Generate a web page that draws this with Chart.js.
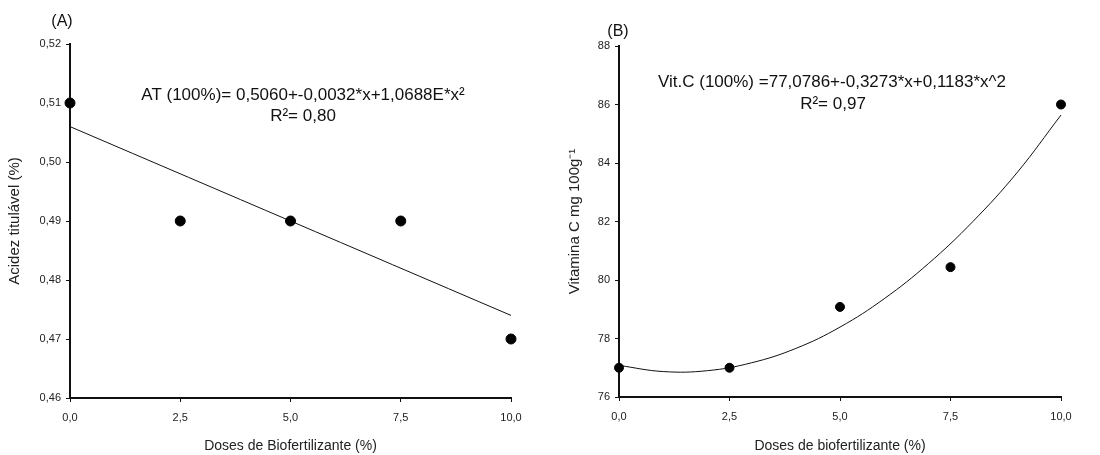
<!DOCTYPE html>
<html>
<head>
<meta charset="utf-8">
<script src="https://cdn.jsdelivr.net/npm/chart.js@4"></script>
<style>
  html, body { margin: 0; padding: 0; background: #fff; }
  #wrap { position: relative; width: 1100px; height: 455px; }
  .panel { position: absolute; top: 0; width: 550px; height: 455px; }
  #panelA { left: 0; }
  #panelB { left: 550px; }
</style>
</head>
<body>
<div id="wrap">
  <div class="panel" id="panelA"><canvas id="chartA"></canvas></div>
  <div class="panel" id="panelB"><canvas id="chartB"></canvas></div>
</div>
<script>
// doses (%)
const doses = [0, 2.5, 5, 7.5, 10];

// (A) acidez titulavel - observed points
const acidez = [0.51, 0.49, 0.49, 0.49, 0.47];
// (A) fitted line at both ends
const acidezFitX = [0, 10];
const acidezFitY = [0.506, 0.474];

// (B) vitamina C - observed points
const vitC = [77.0, 77.0, 79.08, 80.44, 86.0];
// (B) fitted curve
const vitCFitX = [0, 1, 2, 3, 4, 5, 6, 7, 8, 9, 10];
const vitCFitY = [77.08, 76.87, 76.90, 77.17, 77.66, 78.39, 79.36, 80.56, 81.99, 83.66, 85.64];

const ticksA = [0.46, 0.47, 0.48, 0.49, 0.50, 0.51, 0.52];
const ticksB = [76, 78, 80, 82, 84, 86, 88];
const ticksX = [0, 2.5, 5, 7.5, 10];

const FONT = '"Liberation Sans", Arial, sans-serif';
Chart.defaults.font.family = FONT;
Chart.defaults.color = '#222';

function pts(xs, ys) {
    return xs.map((x, i) => ({ x: x, y: ys[i] }));
}

function comma(v, d) {
    return Number(v).toFixed(d).replace('.', ',');
}

// draws panel letter and equation text
function textPlugin(lines) {
    return {
        id: 'eqText',
        afterDraw(chart) {
            const ctx = chart.ctx;
            ctx.save();
            ctx.fillStyle = '#111';
            ctx.textBaseline = 'middle';
            lines.forEach(l => {
                ctx.font = l.size + 'px ' + FONT;
                ctx.textAlign = l.align || 'center';
                ctx.fillText(l.text, l.x, l.y);
            });
            ctx.restore();
        }
    };
}

function makeChart(id, cfg) {
    return new Chart(document.getElementById(id), {
        type: 'scatter',
        data: {
            datasets: [{
                data: pts(doses, cfg.points),
                backgroundColor: '#000',
                borderColor: '#000',
                pointRadius: cfg.radius,
                pointHoverRadius: cfg.radius,
                showLine: false,
                clip: false,
                order: 1
            }, {
                data: pts(cfg.fitX, cfg.fitY),
                borderColor: '#111',
                borderWidth: 1,
                pointRadius: 0,
                showLine: true,
                tension: 0.4,
                fill: false,
                clip: false,
                order: 2
            }]
        },
        options: {
            responsive: false,
            animation: false,
            events: [],
            layout: { padding: { top: cfg.top, right: cfg.right, left: 0, bottom: 0 } },
            plugins: { legend: { display: false }, tooltip: { enabled: false } },
            scales: {
                x: {
                    type: 'linear',
                    min: 0,
                    max: 10,
                    afterBuildTicks: (s) => { s.ticks = ticksX.map(v => ({ value: v })); },
                    afterFit: (s) => { s.height = cfg.xHeight; },
                    border: { color: '#111', width: 2 },
                    grid: { drawOnChartArea: false, drawTicks: true, tickLength: 4, color: '#111', lineWidth: 1 },
                    ticks: {
                        font: { size: 11 },
                        padding: 9,
                        maxRotation: 0,
                        callback: (v) => comma(v, 1)
                    },
                    title: {
                        display: true,
                        text: cfg.xTitle,
                        font: { size: 14 },
                        color: '#222',
                        padding: { top: 8, bottom: 0 }
                    }
                },
                y: {
                    type: 'linear',
                    min: cfg.yTicks[0],
                    max: cfg.yTicks[cfg.yTicks.length - 1],
                    afterBuildTicks: (s) => { s.ticks = cfg.yTicks.map(v => ({ value: v })); },
                    afterFit: (s) => { s.width = cfg.yWidth; },
                    border: { color: '#111', width: 2 },
                    grid: { drawOnChartArea: false, drawTicks: true, tickLength: 4, color: '#111', lineWidth: 1 },
                    ticks: {
                        font: { size: 11 },
                        padding: 5,
                        callback: (v) => cfg.yFmt(v)
                    },
                    title: {
                        display: true,
                        text: cfg.yTitle,
                        font: { size: 15 },
                        color: '#222',
                        padding: { top: cfg.yTitlePad, bottom: 0 }
                    }
                }
            }
        },
        plugins: [textPlugin(cfg.labels)]
    });
}

const cA = document.getElementById('chartA');
cA.width = 550; cA.height = 455;
const cB = document.getElementById('chartB');
cB.width = 550; cB.height = 455;

makeChart('chartA', {
    points: acidez,
    fitX: acidezFitX,
    fitY: acidezFitY,
    radius: 5,
    yTicks: ticksA,
    yFmt: (v) => comma(v, 2),
    xTitle: 'Doses de Biofertilizante (%)',
    yTitle: 'Acidez titulável (%)',
    yTitlePad: 6,
    top: 44,
    right: 39,
    xHeight: 57,
    yWidth: 70,
    labels: [
        { text: '(A)', x: 62, y: 22, size: 16 },
        { text: 'AT (100%)= 0,5060+-0,0032*x+1,0688E*x²', x: 303, y: 95, size: 17 },
        { text: 'R²= 0,80', x: 303, y: 116, size: 17 }
    ]
});

makeChart('chartB', {
    points: vitC,
    fitX: vitCFitX,
    fitY: vitCFitY,
    radius: 4.5,
    yTicks: ticksB,
    yFmt: (v) => String(v),
    xTitle: 'Doses de biofertilizante (%)',
    yTitle: 'Vitamina C mg 100g⁻¹',
    yTitlePad: 16,
    top: 46,
    right: 39,
    xHeight: 58,
    yWidth: 69,
    labels: [
        { text: '(B)', x: 68, y: 32, size: 16 },
        { text: 'Vit.C (100%) =77,0786+-0,3273*x+0,1183*x^2', x: 282, y: 82, size: 17 },
        { text: 'R²= 0,97', x: 283, y: 104, size: 17 }
    ]
});
</script>
</body>
</html>
